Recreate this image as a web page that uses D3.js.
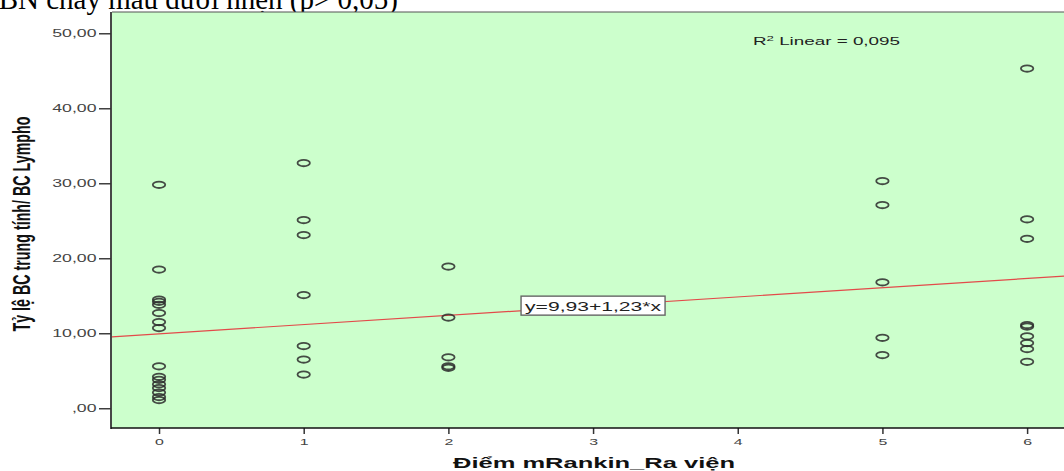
<!DOCTYPE html>
<html>
<head>
<meta charset="utf-8">
<script src="https://cdn.jsdelivr.net/npm/d3@7"></script>
<style>
  html, body { margin: 0; padding: 0; background: #ffffff; }
  svg { display: block; }
</style>
</head>
<body>
<svg id="chart" width="1064" height="471"></svg>
<script>
// mRankin score at discharge and neutrophil/lymphocyte ratio per patient
const mRankin = [
  0, 0, 0, 0, 0, 0, 0, 0, 0, 0, 0, 0, 0, 0, 0, 0,
  1, 1, 1, 1, 1, 1, 1,
  2, 2, 2, 2, 2,
  5, 5, 5, 5, 5,
  6, 6, 6, 6, 6, 6, 6, 6, 6
];
const nlrRatio = [
  29.8, 18.5, 14.5, 14.2, 13.8, 12.7, 11.5, 10.7, 5.6, 4.2, 3.8, 3.2, 2.7, 2.1, 1.5, 1.1,
  32.7, 25.1, 23.1, 15.1, 8.3, 6.5, 4.5,
  18.9, 12.1, 6.8, 5.6, 5.4,
  30.3, 27.1, 16.8, 9.4, 7.1,
  45.3, 25.2, 22.6, 11.1, 10.9, 9.6, 8.7, 7.9, 6.2
];

// Linear fit reported on the chart
const fitIntercept = 9.93;
const fitSlope = 1.23;
const rSquared = "0,095";
const fitLabelAt = 3;

const xTickValues = [0, 1, 2, 3, 4, 5, 6];
const xTickLabels = ["0", "1", "2", "3", "4", "5", "6"];
const yTickValues = [0, 10, 20, 30, 40, 50];
const yTickLabels = [",00", "10,00", "20,00", "30,00", "40,00", "50,00"];

const xTitle = "Điểm mRankin_Ra viện";
const yTitle = "Tỷ lệ BC trung tính/ BC Lympho";
const captionText = "BN chảy máu dưới nhện (p> 0,05)";

const svg = d3.select("#chart");
const plot = { left: 112, right: 1064, top: 12, bottom: 428 };
const stretch = 1.77; // horizontal stretch of the chart's lettering
const sansFont = "'Liberation Sans', Arial, sans-serif";

const x = d3.scaleLinear().domain([-0.325, 6.255]).range([plot.left, plot.right]);
const y = d3.scaleLinear().domain([-2.63, 52.84]).range([plot.bottom, plot.top]);

// Caption line of the surrounding document, running off the top edge
svg.append("text")
  .attr("x", 398).attr("y", 9)
  .attr("text-anchor", "end")
  .attr("font-family", "'Liberation Serif', 'Times New Roman', serif")
  .attr("font-size", 29)
  .attr("fill", "#000")
  .text(captionText);

// Plot background
svg.append("rect")
  .attr("x", plot.left).attr("y", plot.top)
  .attr("width", plot.right - plot.left).attr("height", plot.bottom - plot.top)
  .attr("fill", "#ccffcc");
svg.append("line")
  .attr("x1", plot.left).attr("x2", plot.right)
  .attr("y1", plot.top).attr("y2", plot.top)
  .attr("stroke", "#555").attr("stroke-width", 1.2);

svg.append("clipPath").attr("id", "plotClip")
  .append("rect")
  .attr("x", plot.left).attr("y", plot.top)
  .attr("width", plot.right - plot.left).attr("height", plot.bottom - plot.top);

// Y axis
const yAxis = svg.append("g")
  .attr("transform", `translate(${plot.left - 1},0)`)
  .call(d3.axisLeft(y).tickValues(yTickValues)
    .tickFormat((d, i) => yTickLabels[i]).tickSize(12).tickSizeOuter(0));
yAxis.select(".domain").remove();
yAxis.selectAll(".tick line").attr("stroke", "#222").attr("stroke-width", 1.3);
yAxis.selectAll(".tick text")
  .attr("x", null).attr("dy", null)
  .attr("transform", `translate(-14.5,3.6) scale(${stretch},1)`)
  .attr("font-family", sansFont).attr("font-size", 10)
  .attr("fill", "#444").attr("text-anchor", "end");

// X axis
const xAxis = svg.append("g")
  .attr("transform", `translate(0,${plot.bottom})`)
  .call(d3.axisBottom(x).tickValues(xTickValues)
    .tickFormat((d, i) => xTickLabels[i]).tickSize(6).tickSizeOuter(0));
xAxis.select(".domain").remove();
xAxis.selectAll(".tick line").attr("stroke", "#333").attr("stroke-width", 1.5);
xAxis.selectAll(".tick text")
  .attr("y", null).attr("dy", null)
  .attr("transform", `translate(0,17) scale(${stretch},1)`)
  .attr("font-family", sansFont).attr("font-size", 9)
  .attr("fill", "#444").attr("text-anchor", "middle");

// Axis frame lines
svg.append("line")
  .attr("x1", plot.left - 1).attr("x2", plot.left - 1)
  .attr("y1", plot.top).attr("y2", plot.bottom + 1)
  .attr("stroke", "#333").attr("stroke-width", 1.8);
svg.append("line")
  .attr("x1", plot.left - 1).attr("x2", plot.right)
  .attr("y1", plot.bottom).attr("y2", plot.bottom)
  .attr("stroke", "#111").attr("stroke-width", 1.6);

const inner = svg.append("g").attr("clip-path", "url(#plotClip)");

// Fit line across the full x range
const [x0, x1] = x.domain();
inner.append("line")
  .attr("x1", x(x0)).attr("y1", y(fitIntercept + fitSlope * x0))
  .attr("x2", x(x1)).attr("y2", y(fitIntercept + fitSlope * x1))
  .attr("stroke", "#e34a4a").attr("stroke-width", 1.2);

// Scatter markers
inner.selectAll("ellipse.pt")
  .data(mRankin.map((m, i) => [m, nlrRatio[i]]))
  .join("ellipse")
  .attr("class", "pt")
  .attr("cx", d => x(d[0]))
  .attr("cy", d => y(d[1]))
  .attr("rx", 6.2).attr("ry", 3.2)
  .attr("fill", "none")
  .attr("stroke", "#2b2b2b")
  .attr("stroke-width", 1.8)
  .attr("stroke-opacity", 0.85);

// Equation label on the fit line
const eqX = x(fitLabelAt), eqY = y(fitIntercept + fitSlope * fitLabelAt);
const eqText = `y=${String(fitIntercept).replace(".", ",")}+${String(fitSlope).replace(".", ",")}*x`;
svg.append("rect")
  .attr("x", eqX - 72).attr("y", eqY - 10)
  .attr("width", 144).attr("height", 19)
  .attr("fill", "#fff").attr("stroke", "#666").attr("stroke-width", 1.4);
svg.append("text")
  .attr("x", eqX).attr("y", eqY + 4.5)
  .attr("text-anchor", "middle")
  .attr("font-family", sansFont).attr("font-size", 12)
  .attr("fill", "#222")
  .attr("textLength", 136).attr("lengthAdjust", "spacingAndGlyphs")
  .text(eqText);

// R² annotation
const r2 = svg.append("text")
  .attr("x", 753).attr("y", 45)
  .attr("font-family", sansFont).attr("font-size", 10.7)
  .attr("fill", "#222")
  .attr("textLength", 147).attr("lengthAdjust", "spacingAndGlyphs");
r2.append("tspan").text("R");
r2.append("tspan").attr("dy", -4).attr("font-size", 7.5).text("2");
r2.append("tspan").attr("dy", 4).text(` Linear = ${rSquared}`);

// Axis titles
svg.append("text")
  .attr("x", 594).attr("y", 467.5)
  .attr("text-anchor", "middle")
  .attr("font-family", sansFont).attr("font-weight", "bold").attr("font-size", 14)
  .attr("fill", "#111")
  .attr("textLength", 282).attr("lengthAdjust", "spacingAndGlyphs")
  .text(xTitle);

svg.append("text")
  .attr("transform", `translate(30,224) scale(${stretch},1) rotate(-90)`)
  .attr("text-anchor", "middle")
  .attr("font-family", sansFont).attr("font-weight", "bold").attr("font-size", 14)
  .attr("fill", "#111")
  .attr("textLength", 215).attr("lengthAdjust", "spacingAndGlyphs")
  .text(yTitle);
</script>
</body>
</html>
